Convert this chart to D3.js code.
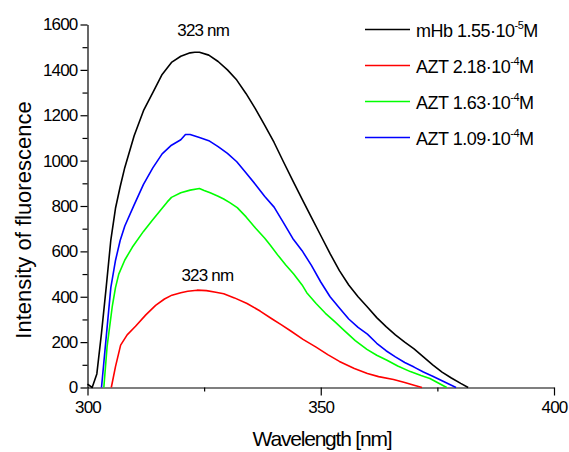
<!DOCTYPE html>
<html>
<head>
<meta charset="utf-8">
<script src="https://cdn.jsdelivr.net/npm/d3@7"></script>
<style>
  body { margin: 0; background: #fff; }
  svg { display: block; font-family: "Liberation Sans", Arial, sans-serif; }
  .axis path, .axis line { stroke: #000; stroke-width: 1.2; }
  .axis text { font-size: 17px; fill: #000; letter-spacing: -0.8px; }
</style>
</head>
<body>
<svg id="chart" width="569" height="452"></svg>
<script>
// data: [wavelength nm, intensity]
const mhb = [[300, 15], [301, 0], [302, 60], [303, 240], [304, 440], [305, 650], [306, 790],
  [307, 885], [308, 970], [310, 1110], [312, 1220], [314, 1300], [316, 1380], [318, 1433],
  [320, 1460], [322, 1475], [323, 1478], [324, 1478], [326, 1465], [328, 1437], [330, 1400],
  [332, 1355], [334, 1295], [336, 1228], [338, 1155], [340, 1080], [342, 995], [344, 912],
  [346, 830], [348, 750], [350, 670], [352, 590], [354, 515], [356, 452], [358, 400],
  [360, 355], [362, 308], [364, 268], [366, 232], [368, 200], [370, 170], [372, 135],
  [374, 100], [376, 68], [378, 42], [380, 18], [381.6, 0]];

const azt218 = [[305.1, 0], [306, 92], [307.1, 187], [308.5, 232], [310.3, 270], [312.5, 320],
  [314.6, 362], [316.5, 390], [318.1, 407], [320, 418], [321.5, 424], [323.5, 429],
  [325.5, 427], [327.5, 420], [329.2, 413], [331.5, 395], [334.2, 370], [337, 337],
  [339.5, 303], [341.5, 277], [343.5, 250], [346.2, 212], [349, 178], [351.5, 145],
  [354, 115], [357.2, 84], [360, 62], [362.4, 48], [365.6, 35], [368, 22], [370, 10], [371.7, 0]];

const azt163 = [[303.5, 0], [304.2, 180], [305.3, 356], [306, 440], [306.7, 500], [308, 562],
  [309.6, 618], [312, 688], [313.9, 737], [316, 790], [317.1, 818], [318, 838], [320, 858],
  [322, 870], [324, 877], [325, 868], [326.3, 858], [328, 843], [329.2, 831], [330.5, 815],
  [332.1, 793], [334, 752], [336, 703], [338, 658], [339.2, 627], [341, 578], [342.5, 540],
  [344.2, 500], [346, 452], [347, 418], [349, 370], [351, 327], [353, 290], [355, 252],
  [357.4, 207], [359.9, 168], [362, 142], [364.2, 120], [366.5, 95], [369.2, 70],
  [371.5, 53], [373.4, 40], [375, 22], [377, 0]];

const azt109 = [[303, 0], [304, 220], [305, 440], [306, 560], [307, 648], [308, 712], [310, 805],
  [312, 895], [314, 968], [316, 1030], [318, 1068], [320, 1092], [321, 1115], [322, 1115],
  [324, 1102], [326, 1088], [328, 1062], [330, 1032], [332, 995], [334, 945], [336, 895],
  [338, 842], [340, 795], [342, 727], [344, 657], [346, 603], [348, 538], [350, 465],
  [352, 400], [354, 350], [356, 302], [358, 265], [360, 235], [362, 195], [364, 162],
  [366, 135], [368, 110], [370, 90], [372, 68], [374, 50], [376, 30], [378, 10], [379, 0]];

const seriesNames = ['mHb 1.55·10', 'AZT 2.18·10', 'AZT 1.63·10', 'AZT 1.09·10'];
const seriesExp = ['-5', '-4', '-4', '-4'];
const seriesColors = ['#000000', '#ff0000', '#00ff00', '#0000ff'];
const seriesData = [mhb, azt218, azt163, azt109];

const xTicks = [300, 350, 400];
const xMinor = [325, 375];
const yTicks = [0, 200, 400, 600, 800, 1000, 1200, 1400, 1600];
const yMinor = [100, 300, 500, 700, 900, 1100, 1300, 1500];

// peak labels: [wavelength, intensity, text]
const peaks = [[324.8, 1550, '323 nm'], [325.7, 471, '323 nm']];

const svg = d3.select('#chart');

const x = d3.scaleLinear().domain([300, 400]).range([87.5, 554]);
const y = d3.scaleLinear().domain([0, 1600]).range([387.5, 24.5]);

// minor ticks first, then the main axes on top
svg.append('g')
  .attr('class', 'axis')
  .attr('transform', 'translate(0,387.5)')
  .call(d3.axisBottom(x).tickValues(xMinor).tickSize(4).tickSizeOuter(0).tickFormat(''))
  .select('.domain').remove();

svg.append('g')
  .attr('class', 'axis')
  .attr('transform', 'translate(87.5,0)')
  .call(d3.axisLeft(y).tickValues(yMinor).tickSize(5).tickSizeOuter(0).tickFormat(''))
  .select('.domain').remove();

svg.append('g')
  .attr('class', 'axis')
  .attr('transform', 'translate(0,387.5)')
  .call(d3.axisBottom(x).tickValues(xTicks).tickSize(8).tickSizeOuter(0).tickPadding(5)
    .tickFormat(d3.format('d')));

svg.append('g')
  .attr('class', 'axis')
  .attr('transform', 'translate(87.5,0)')
  .call(d3.axisLeft(y).tickValues(yTicks).tickSize(7).tickSizeOuter(0).tickPadding(3)
    .tickFormat(d3.format('d')));

// axis titles
svg.append('text')
  .attr('x', 322)
  .attr('y', 446)
  .attr('text-anchor', 'middle')
  .attr('font-size', 21)
  .attr('letter-spacing', -1.2)
  .text('Wavelength [nm]');

svg.append('text')
  .attr('transform', 'translate(31,220) rotate(-90)')
  .attr('text-anchor', 'middle')
  .attr('font-size', 22)
  .text('Intensity of fluorescence');

// curves
const line = d3.line()
  .x(d => x(d[0]))
  .y(d => y(d[1]));

svg.selectAll('.curve')
  .data(seriesData)
  .enter()
  .append('path')
  .attr('class', 'curve')
  .attr('d', line)
  .attr('fill', 'none')
  .attr('stroke', (d, i) => seriesColors[i])
  .attr('stroke-width', 1.6)
  .attr('stroke-linejoin', 'round');

// peak labels
svg.selectAll('.peak')
  .data(peaks)
  .enter()
  .append('text')
  .attr('class', 'peak')
  .attr('x', d => x(d[0]))
  .attr('y', d => y(d[1]))
  .attr('text-anchor', 'middle')
  .attr('font-size', 17)
  .attr('letter-spacing', -0.8)
  .text(d => d[2]);

// legend
const legend = svg.selectAll('.legend')
  .data(seriesNames)
  .enter()
  .append('g')
  .attr('class', 'legend')
  .attr('transform', (d, i) => `translate(365,${29.5 + i * 36})`);

legend.append('line')
  .attr('x1', 0)
  .attr('x2', 45)
  .attr('stroke', (d, i) => seriesColors[i])
  .attr('stroke-width', 1.6);

const lt = legend.append('text')
  .attr('x', 51)
  .attr('y', 7.5)
  .attr('font-size', 18)
  .attr('letter-spacing', -0.5);

lt.append('tspan').text(d => d);
lt.append('tspan')
  .attr('font-size', 11)
  .attr('dy', -8)
  .text((d, i) => seriesExp[i]);
lt.append('tspan')
  .attr('dy', 8)
  .text('M');
</script>
</body>
</html>
